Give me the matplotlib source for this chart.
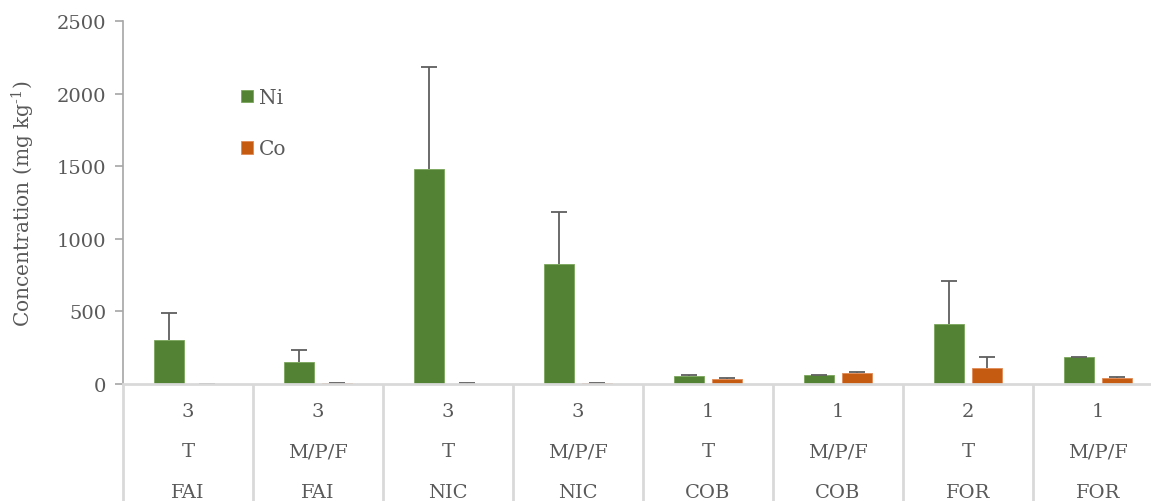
import numpy as np
import matplotlib.pyplot as plt

plt.rcParams['font.family'] = ['DejaVu Serif']
plt.rcParams['mathtext.fontset'] = 'dejavuserif'

# mean concentrations (mg/kg) and upper error
n_samples = ["3", "3", "3", "3", "1", "1", "2", "1"]
tissue = ["T", "M/P/F", "T", "M/P/F", "T", "M/P/F", "T", "M/P/F"]
site = ["FAI", "FAI", "NIC", "NIC", "COB", "COB", "FOR", "FOR"]

ni_mean = [304, 152, 1484, 828, 57, 62, 414, 184]
ni_err = [184, 81, 697, 354, 3, 3, 297, 4]
co_mean = [2, 5, 3, 5, 32, 78, 108, 43]
co_err = [1, 1, 1, 1, 7, 7, 76, 7]

green = "#548235"
orange = "#C55A11"
txt = "#595959"

fig = plt.figure(figsize=(11.51, 5.02), dpi=100)
ax = fig.add_axes([0.1069, 0.2331, 0.9035, 0.7231])

x = np.arange(len(site))
w = 0.23
off = 0.146

ax.bar(x - off, ni_mean, w, color=green, edgecolor="#7aa85a", linewidth=0.6, label="Ni")
ax.bar(x + off, co_mean, w, color=orange, edgecolor="#e08a55", linewidth=0.6, label="Co")

# upper-only error bars
for xs, m, e in [(x - off, ni_mean, ni_err), (x + off, co_mean, co_err)]:
    eb = ax.errorbar(xs, m, yerr=[np.zeros(len(xs)), e], fmt="none",
                     ecolor="#5f5f5f", elinewidth=1.3, capsize=6, capthick=1.3)
    eb[1][0].set_visible(False)

ax.set_xlim(-0.5, len(x) - 0.5)
ax.set_ylim(0, 2500)
ax.set_yticks([0, 500, 1000, 1500, 2000, 2500])
ax.tick_params(axis="y", colors="#a6a6a6", labelcolor=txt, labelsize=14,
               length=6, width=1.2, pad=6)
ax.set_xticks([])

for s in ["top", "right"]:
    ax.spines[s].set_visible(False)
ax.spines["left"].set_color("#a6a6a6")
ax.spines["left"].set_linewidth(1.2)
ax.spines["bottom"].set_color("#d9d9d9")
ax.spines["bottom"].set_linewidth(2)

ax.set_ylabel(r"Concentration (mg kg$^{\text{-1}}$)", fontsize=14.5, color=txt, labelpad=14)

# three-level category labels under the axis
tr = ax.get_xaxis_transform()
for i in range(len(x)):
    ax.text(x[i], -0.075, n_samples[i], transform=tr, ha="center", va="center",
            fontsize=14, color=txt)
    ax.text(x[i], -0.185, tissue[i], transform=tr, ha="center", va="center",
            fontsize=14, color=txt)
    ax.text(x[i], -0.297, site[i], transform=tr, ha="center", va="center",
            fontsize=14, color=txt)
for b in np.arange(len(x) + 1) - 0.5:
    ax.plot([b, b], [0, -0.33], transform=tr, color="#d9d9d9", lw=2,
            clip_on=False, solid_capstyle="butt")

leg = ax.legend(loc="upper left", bbox_to_anchor=(0.096, 0.865), frameon=False,
                fontsize=14.5, handlelength=0.6, handleheight=0.6,
                handletextpad=0.3, labelspacing=1.6)
for t in leg.get_texts():
    t.set_color(txt)

fig.savefig("out.png", dpi=100)
